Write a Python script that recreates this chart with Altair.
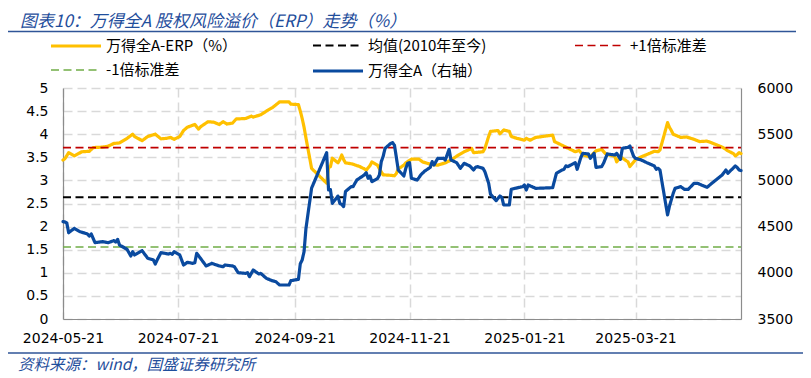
import altair as alt
import pandas as pd

# ---------------- data ----------------
erp_dates = [
    "2024-05-21", "2024-05-22", "2024-05-24", "2024-05-27", "2024-05-31", "2024-06-04", "2024-06-06",
    "2024-06-11", "2024-06-14", "2024-06-17", "2024-06-20", "2024-06-24", "2024-06-27", "2024-06-28",
    "2024-07-02", "2024-07-05", "2024-07-09", "2024-07-12", "2024-07-15", "2024-07-17", "2024-07-19",
    "2024-07-22", "2024-07-24", "2024-07-26", "2024-07-30", "2024-08-01", "2024-08-02", "2024-08-06",
    "2024-08-09", "2024-08-12", "2024-08-14", "2024-08-16", "2024-08-19", "2024-08-21", "2024-08-26",
    "2024-08-29", "2024-08-30", "2024-09-03", "2024-09-06", "2024-09-09", "2024-09-13", "2024-09-18",
    "2024-09-19", "2024-09-23", "2024-09-24", "2024-09-25", "2024-09-26", "2024-09-27", "2024-09-30",
    "2024-10-08", "2024-10-09", "2024-10-10", "2024-10-11", "2024-10-14", "2024-10-15", "2024-10-16",
    "2024-10-17", "2024-10-18", "2024-10-21", "2024-10-22", "2024-10-24", "2024-10-25", "2024-10-28",
    "2024-10-29", "2024-10-31", "2024-11-01", "2024-11-04", "2024-11-05", "2024-11-07", "2024-11-11",
    "2024-11-13", "2024-11-14", "2024-11-15", "2024-11-18", "2024-11-19", "2024-11-22", "2024-11-26",
    "2024-11-28", "2024-12-02", "2024-12-06", "2024-12-10", "2024-12-13", "2024-12-17", "2024-12-20",
    "2024-12-24", "2024-12-25", "2024-12-30", "2024-12-31", "2025-01-02", "2025-01-03", "2025-01-07",
    "2025-01-08", "2025-01-10", "2025-01-13", "2025-01-14", "2025-01-17", "2025-01-21", "2025-01-22",
    "2025-01-24", "2025-01-27", "2025-02-05", "2025-02-06", "2025-02-10", "2025-02-12", "2025-02-17",
    "2025-02-19", "2025-02-21", "2025-02-25", "2025-02-28", "2025-03-03", "2025-03-05", "2025-03-07",
    "2025-03-10", "2025-03-11", "2025-03-13", "2025-03-17", "2025-03-18", "2025-03-21", "2025-03-24",
    "2025-03-27", "2025-03-31", "2025-04-02", "2025-04-03", "2025-04-07", "2025-04-08", "2025-04-09",
    "2025-04-10", "2025-04-14", "2025-04-17", "2025-04-21", "2025-04-24", "2025-04-28", "2025-04-30",
    "2025-05-06", "2025-05-08", "2025-05-09", "2025-05-12", "2025-05-13", "2025-05-14", "2025-05-15",
    "2025-05-16",
]
erp_values = [
    3.44, 3.47, 3.60, 3.53, 3.62, 3.63, 3.71,
    3.72, 3.74, 3.80, 3.81, 3.91, 4.00, 3.95,
    3.86, 3.95, 4.00, 3.90, 3.91, 3.93, 3.89,
    3.95, 4.08, 4.15, 4.21, 4.11, 4.16, 4.27,
    4.26, 4.21, 4.27, 4.22, 4.24, 4.33, 4.34,
    4.39, 4.37, 4.42, 4.50, 4.57, 4.70, 4.70,
    4.65, 4.64, 4.50, 4.34, 4.15, 3.92, 3.26,
    2.94, 3.28, 3.30, 3.48, 3.38, 3.45, 3.55,
    3.45, 3.38, 3.36, 3.35, 3.32, 3.31, 3.25,
    3.22, 3.32, 3.40, 3.33, 3.25, 3.12, 3.11,
    3.10, 3.15, 3.25, 3.33, 3.38, 3.46, 3.46,
    3.40, 3.35, 3.33, 3.38, 3.44, 3.55, 3.62,
    3.69, 3.60, 3.62, 3.69, 3.95, 4.06, 4.08,
    4.01, 4.09, 4.06, 3.95, 3.91, 3.87, 3.91,
    3.87, 3.93, 3.98, 3.84, 3.76, 3.72, 3.62,
    3.65, 3.55, 3.51, 3.64, 3.67, 3.58, 3.55,
    3.52, 3.40, 3.51, 3.40, 3.30, 3.45, 3.51,
    3.56, 3.63, 3.62, 3.66, 4.25, 4.15, 4.08,
    4.00, 3.93, 3.94, 3.89, 3.84, 3.85, 3.82,
    3.72, 3.67, 3.64, 3.58, 3.53, 3.56, 3.60,
    3.58,
]

wind_dates = [
    "2024-05-21", "2024-05-22", "2024-05-23", "2024-05-24", "2024-05-27", "2024-05-30", "2024-06-03",
    "2024-06-04", "2024-06-05", "2024-06-07", "2024-06-11", "2024-06-14", "2024-06-17", "2024-06-18",
    "2024-06-19", "2024-06-20", "2024-06-24", "2024-06-26", "2024-06-27", "2024-06-28", "2024-07-02",
    "2024-07-05", "2024-07-08", "2024-07-09", "2024-07-10", "2024-07-12", "2024-07-16", "2024-07-17",
    "2024-07-18", "2024-07-19", "2024-07-22", "2024-07-24", "2024-07-26", "2024-07-29", "2024-07-30",
    "2024-07-31", "2024-08-02", "2024-08-05", "2024-08-08", "2024-08-12", "2024-08-14", "2024-08-15",
    "2024-08-19", "2024-08-20", "2024-08-22", "2024-08-26", "2024-08-27", "2024-08-28", "2024-08-30",
    "2024-09-02", "2024-09-03", "2024-09-06", "2024-09-09", "2024-09-11", "2024-09-13", "2024-09-18",
    "2024-09-19", "2024-09-23", "2024-09-24", "2024-09-25", "2024-09-26", "2024-09-27", "2024-09-30",
    "2024-10-08", "2024-10-09", "2024-10-10", "2024-10-11", "2024-10-14", "2024-10-15", "2024-10-16",
    "2024-10-17", "2024-10-18", "2024-10-21", "2024-10-22", "2024-10-24", "2024-10-28", "2024-10-29",
    "2024-10-30", "2024-10-31", "2024-11-01", "2024-11-04", "2024-11-05", "2024-11-06", "2024-11-07",
    "2024-11-08", "2024-11-11", "2024-11-12", "2024-11-13", "2024-11-14", "2024-11-15", "2024-11-18",
    "2024-11-19", "2024-11-20", "2024-11-21", "2024-11-22", "2024-11-25", "2024-11-26", "2024-11-27",
    "2024-11-28", "2024-11-29", "2024-12-02", "2024-12-03", "2024-12-04", "2024-12-06", "2024-12-09",
    "2024-12-10", "2024-12-12", "2024-12-13", "2024-12-16", "2024-12-18", "2024-12-20", "2024-12-23",
    "2024-12-25", "2024-12-26", "2024-12-27", "2024-12-30", "2024-12-31", "2025-01-02", "2025-01-03",
    "2025-01-06", "2025-01-08", "2025-01-09", "2025-01-10", "2025-01-13", "2025-01-14", "2025-01-16",
    "2025-01-20", "2025-01-21", "2025-01-22", "2025-01-23", "2025-01-27", "2025-02-05", "2025-02-06",
    "2025-02-07", "2025-02-10", "2025-02-11", "2025-02-12", "2025-02-13", "2025-02-17", "2025-02-18",
    "2025-02-20", "2025-02-21", "2025-02-24", "2025-02-25", "2025-02-27", "2025-02-28", "2025-03-03",
    "2025-03-04", "2025-03-06", "2025-03-10", "2025-03-11", "2025-03-13", "2025-03-14", "2025-03-17",
    "2025-03-18", "2025-03-20", "2025-03-21", "2025-03-24", "2025-03-27", "2025-03-31", "2025-04-01",
    "2025-04-02", "2025-04-03", "2025-04-07", "2025-04-08", "2025-04-10", "2025-04-11", "2025-04-14",
    "2025-04-16", "2025-04-18", "2025-04-21", "2025-04-23", "2025-04-25", "2025-04-28", "2025-04-30",
    "2025-05-06", "2025-05-08", "2025-05-09", "2025-05-13", "2025-05-14", "2025-05-15", "2025-05-16",
]
wind_values = [
    4553, 4550, 4540, 4434, 4481, 4445, 4420,
    4398, 4420, 4326, 4337, 4326, 4348, 4333,
    4362, 4301, 4254, 4182, 4229, 4193, 4239,
    4157, 4139, 4095, 4139, 4218, 4203, 4211,
    4200, 4229, 4193, 4084, 4113, 4102, 4110,
    4211, 4157, 4074, 4102, 4074, 4066, 4084,
    4074, 4066, 4001, 3994, 4001, 3958, 4030,
    3987, 3994, 3940, 3915, 3904, 3868, 3868,
    3915, 3929, 4098, 4139, 4230, 4480, 4917,
    5300, 4896, 4900, 4752, 4830, 4750, 4740,
    4716, 4880, 4932, 4932, 5004, 5059, 5084,
    5023, 5048, 4987, 5020, 5059, 5203, 5260,
    5347, 5400, 5408, 5380, 5250, 5113, 5048,
    5130, 5185, 5192, 5023, 5004, 5030, 5060,
    5080, 5100, 5141, 5203, 5167, 5239, 5239,
    5221, 5336, 5221, 5192, 5131, 5185, 5156,
    5113, 5141, 5149, 5131, 5095, 4970, 4850,
    4781, 4831, 4817, 4734, 4734, 4903, 4914,
    4932, 4950, 4896, 4950, 4914, 4921, 5000,
    5077, 5113, 5120, 5156, 5149, 5192, 5120,
    5250, 5293, 5286, 5239, 5293, 5141, 5149,
    5185, 5286, 5275, 5293, 5228, 5347, 5358,
    5372, 5260, 5239, 5221, 5192, 5156, 5120,
    5131, 5110, 4626, 4720, 4860, 4914, 4932,
    4903, 4903, 4968, 4968, 4950, 4925, 4960,
    5059, 5113, 5077, 5156, 5140, 5113, 5106,
]
assert len(erp_dates) == len(erp_values)
assert len(wind_dates) == len(wind_values)

mean_value = 2.635      # 均值(2010年至今)
plus1_value = 3.71      # +1倍标准差
minus1_value = 1.56     # -1倍标准差
range_dates = ["2024-05-21", "2025-05-16"]

series_names = ["万得全A-ERP（%）", "均值(2010年至今)", "+1倍标准差", "-1倍标准差", "万得全A（右轴）"]
series_colors = ["#FFC000", "#000000", "#C00000", "#70AD47", "#0A4A9F"]
series_dashes = [[1, 0], [8, 4.5], [8, 4.5], [8, 4.5], [1, 0]]
series_widths = [3.2, 2, 1.6, 1.6, 3.2]

left_ticks = [0, 0.5, 1, 1.5, 2, 2.5, 3, 3.5, 4, 4.5, 5]
right_ticks = [3500, 4000, 4500, 5000, 5500, 6000]
x_ticks = [(2024, 5, 21), (2024, 7, 21), (2024, 9, 21), (2024, 11, 21), (2025, 1, 21), (2025, 3, 21)]

title_text = "图表10：万得全A 股权风险溢价（ERP）走势（%）"
source_text = "资料来源：wind，国盛证券研究所"

# ---------------- tables ----------------
erp_df = pd.DataFrame({"date": erp_dates, "value": erp_values, "series": series_names[0]})
ref_rows = []
for name, val in zip(series_names[1:4], [mean_value, plus1_value, minus1_value]):
    for d in range_dates:
        ref_rows.append({"date": d, "value": val, "series": name})
ref_df = pd.DataFrame(ref_rows)
wind_df = pd.DataFrame({"date": wind_dates, "value": wind_values, "series": series_names[4]})

FONT_NUM = "DejaVu Sans"
FONT_CJK = "Noto Sans CJK SC"
AXIS_GRAY = "#8C8C8C"
GRID = "#D9D9D9"
TEXT_BLUE = "#1F4E9C"

def dt(t):
    return alt.DateTime(year=t[0], month=t[1], date=t[2], utc=True)

x_enc = alt.X(
    "date:T",
    scale=alt.Scale(type="utc", domain=[dt((2024, 5, 21)), dt((2025, 5, 16))]),
    axis=alt.Axis(
        values=[dt(t) for t in x_ticks], format="%Y-%m-%d", title=None,
        grid=True, gridDash=[9, 5], gridColor=GRID, gridWidth=1.5,
        ticks=False, domainColor=AXIS_GRAY, domainWidth=1.2,
        labelFont=FONT_NUM, labelFontSize=14, labelColor="#000000",
        labelPadding=12, labelFlush=False, labelOverlap=False,
    ),
)

# long thin stroke symbol: a custom path wider than the unit box
legend = alt.Legend(
    title=None, orient="none", legendX=1, legendY=-54, columns=3, direction="horizontal",
    symbolType="M-2.5,0H2.5", symbolSize=400, labelFont=FONT_CJK, labelFontSize=15,
    labelColor="#000000", labelOffset=18, rowPadding=5, columnPadding=69, padding=0,
    gridAlign="all", labelLimit=400,
)
color_enc = alt.Color("series:N", scale=alt.Scale(domain=series_names, range=series_colors), legend=legend)
dash_enc = alt.StrokeDash("series:N", scale=alt.Scale(domain=series_names, range=series_dashes), legend=legend)
width_enc = alt.StrokeWidth(
    "series:N", scale=alt.Scale(type="ordinal", domain=series_names, range=series_widths), legend=legend
)

y_left = alt.Y(
    "value:Q", scale=alt.Scale(domain=[0, 5]),
    axis=alt.Axis(
        values=left_ticks, format="~g", title=None, orient="left",
        grid=True, gridDash=[9, 5], gridColor=GRID, gridWidth=1.5,
        ticks=False, domainColor=AXIS_GRAY, domainWidth=1.2,
        labelFont=FONT_NUM, labelFontSize=14, labelColor="#000000", labelPadding=15,
    ),
)
y_right = alt.Y(
    "value:Q", scale=alt.Scale(domain=[3500, 6000]),
    axis=alt.Axis(
        values=right_ticks, format="d", title=None, orient="right",
        grid=False, ticks=False, domainColor=AXIS_GRAY, domainWidth=1.2,
        labelFont=FONT_NUM, labelFontSize=14, labelColor="#000000", labelPadding=16,
    ),
)

erp_line = alt.Chart(erp_df).mark_line(strokeJoin="round", strokeCap="round").encode(
    x=x_enc, y=y_left, color=color_enc, strokeDash=dash_enc, strokeWidth=width_enc, detail="series:N"
)
ref_lines = alt.Chart(ref_df).mark_line().encode(
    x=x_enc, y=y_left, color=color_enc, strokeDash=dash_enc, strokeWidth=width_enc, detail="series:N"
)
left = alt.layer(erp_line, ref_lines)

wind_line = alt.Chart(wind_df).mark_line(strokeJoin="round", strokeCap="round").encode(
    x=x_enc, y=y_right, color=color_enc, strokeDash=dash_enc, strokeWidth=width_enc
)

blank = alt.Data(values=[{}])
title_mark = alt.Chart(blank).mark_text(
    text=title_text, align="left", baseline="middle", font=FONT_CJK, fontSize=17,
    fontStyle="italic", color=TEXT_BLUE,
).encode(x=alt.value(-43), y=alt.value(-66))
source_mark = alt.Chart(blank).mark_text(
    text=source_text, align="left", baseline="middle", font=FONT_CJK, fontSize=15.5,
    fontStyle="italic", color=TEXT_BLUE,
).encode(x=alt.value(-45), y=alt.value(277))
sep_top = alt.Chart(blank).mark_rule(color="#2F5597", strokeWidth=1.5).encode(
    x=alt.value(-58), x2=alt.value(733), y=alt.value(-56.5)
)
sep_bottom = alt.Chart(blank).mark_rule(color="#2F5597", strokeWidth=1.5).encode(
    x=alt.value(-58), x2=alt.value(744), y=alt.value(265)
)

chart = (
    alt.layer(left, wind_line, title_mark, source_mark, sep_top, sep_bottom)
    .resolve_scale(y="independent")
    .properties(
        width=678, height=231,
        autosize=alt.AutoSizeParams(type="none"),
        padding={"left": 55, "top": 80, "right": 62, "bottom": 58},
    )
    .configure_view(stroke=None)
)

chart.save("out.html", embed_options={"renderer": "svg", "actions": False})
